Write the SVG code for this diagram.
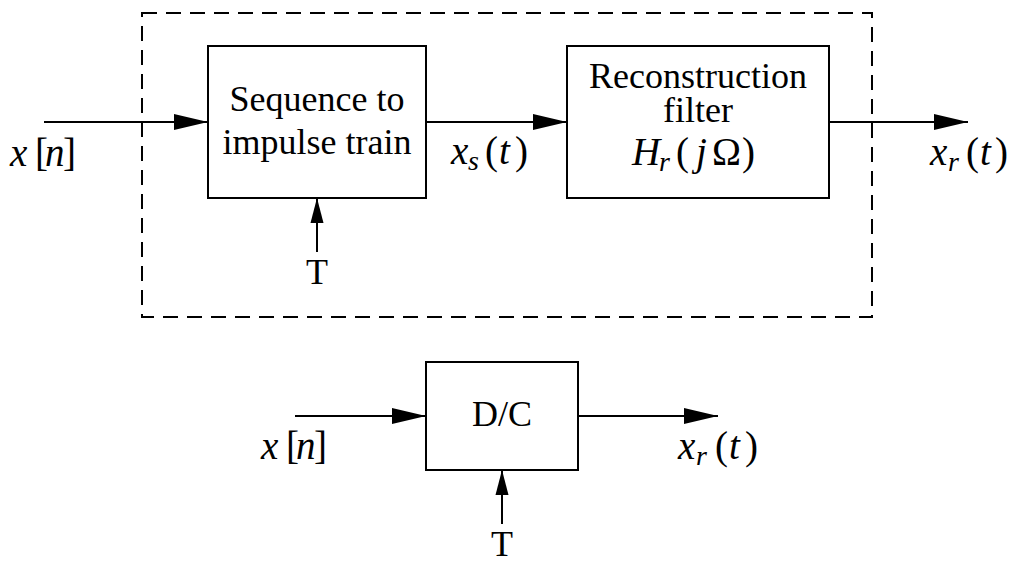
<svg xmlns="http://www.w3.org/2000/svg" width="1012" height="561" viewBox="0 0 1012 561">
<style>
.box{fill:#fff;stroke:#000;stroke-width:2}
.ln{fill:none;stroke:#000;stroke-width:2}
.dash{fill:none;stroke:#000;stroke-width:2;stroke-dasharray:15 9}
.t{font-family:"Liberation Serif","Times New Roman",serif;font-size:36px;fill:#000;text-anchor:middle}
.m{font-family:"Liberation Serif","Times New Roman",serif;font-size:39px;fill:#000}
.i{font-style:italic}
.sub{font-size:28px;font-style:italic}
</style>
<defs>
<marker id="ah" markerUnits="userSpaceOnUse" markerWidth="34" markerHeight="18" refX="34" refY="8" orient="auto" viewBox="0 0 34 16">
<path d="M0,0 L34,8 L0,16 Z" fill="#000"/>
</marker>
<marker id="av" markerUnits="userSpaceOnUse" markerWidth="25" markerHeight="14" refX="25" refY="6.5" orient="auto" viewBox="0 0 25 13">
<path d="M0,0 L25,6.5 L0,13 Z" fill="#000"/>
</marker>
</defs>
<rect class="dash" x="142" y="13" width="730" height="304"/>
<g id="connectors">
<line class="ln" x1="44" y1="122" x2="208" y2="122" marker-end="url(#ah)"/>
<line class="ln" x1="426" y1="122" x2="567" y2="122" marker-end="url(#ah)"/>
<line class="ln" x1="829" y1="122" x2="968" y2="122" marker-end="url(#ah)"/>
<line class="ln" x1="317" y1="252" x2="317" y2="198" marker-end="url(#av)"/>
<line class="ln" x1="295" y1="416" x2="426" y2="416" marker-end="url(#ah)"/>
<line class="ln" x1="578" y1="416" x2="718" y2="416" marker-end="url(#ah)"/>
<line class="ln" x1="502" y1="524" x2="502" y2="470" marker-end="url(#av)"/>
</g>
<g id="seq">
<rect class="box" x="208" y="46" width="218" height="152"/>
<text class="t" x="317" y="111">Sequence to</text>
<text class="t" x="317" y="154">impulse train</text>
</g>
<g id="recon">
<rect class="box" x="567" y="46" width="262" height="152"/>
<text class="t" x="698" y="88">Reconstruction</text>
<text class="t" x="698" y="122">filter</text>
<text class="m" y="165"><tspan class="i" x="632">H</tspan><tspan class="sub" x="659" dy="6">r</tspan><tspan x="676" dy="-6">(</tspan><tspan class="i" x="696">j</tspan><tspan x="712">Ω</tspan><tspan x="742">)</tspan></text>
</g>
<g id="dc">
<rect class="box" x="426" y="362" width="152" height="108"/>
<text class="t" x="502" y="426">D/C</text>
</g>
<g id="labels">
<text class="m" y="166"><tspan class="i" x="10">x</tspan><tspan x="35">[</tspan><tspan class="i" x="45">n</tspan><tspan x="63">]</tspan></text>
<text class="m" y="164"><tspan class="i" x="451">x</tspan><tspan class="sub" x="468" dy="6">s</tspan><tspan x="485" dy="-6">(</tspan><tspan class="i" x="499">t</tspan><tspan x="515">)</tspan></text>
<text class="m" y="165"><tspan class="i" x="930">x</tspan><tspan class="sub" x="948" dy="6">r</tspan><tspan x="966" dy="-6">(</tspan><tspan class="i" x="980">t</tspan><tspan x="995">)</tspan></text>
<text class="t" x="317" y="284">T</text>
<text class="m" y="459"><tspan class="i" x="261">x</tspan><tspan x="286">[</tspan><tspan class="i" x="296">n</tspan><tspan x="314">]</tspan></text>
<text class="m" y="459"><tspan class="i" x="678">x</tspan><tspan class="sub" x="696" dy="6">r</tspan><tspan x="715" dy="-6">(</tspan><tspan class="i" x="729">t</tspan><tspan x="745">)</tspan></text>
<text class="t" x="502" y="556">T</text>
</g>
</svg>
